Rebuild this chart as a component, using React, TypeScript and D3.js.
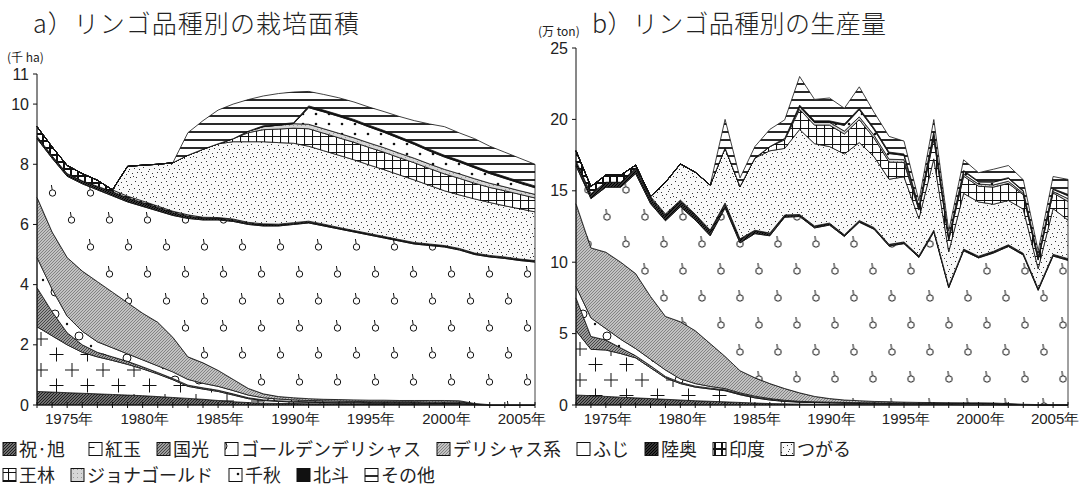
import React from 'react';
import * as d3 from 'd3';

const years = d3.range(1973, 2007);
const varieties = ['祝·旭', '紅玉', '国光', 'ゴールデンデリシャス', 'デリシャス系', 'ふじ', '陸奥', '印度', 'つがる', '王林', 'ジョナゴールド', '千秋', '北斗', 'その他'];
const patternKeys = ['iwai', 'kogyoku', 'kokko', 'golden', 'delicious', 'fuji', 'mutsu', 'indo', 'tsugaru', 'orin', 'jona', 'senshu', 'hokuto', 'other'];
const yearLabels = [1975, 1980, 1985, 1990, 1995, 2000, 2005];
const areaTicks = [0, 2, 4, 6, 8, 10, 11];
const prodTicks = [0, 5, 10, 15, 20, 25];

// 栽培面積 (千ha), 1973–2006
const areaIwai = [0.45,0.43,0.41,0.39,0.37,0.35,0.33,0.31,0.28,0.25,0.22,0.19,0.15,0.11,0.08,0.06,0.05,0.05,0.04,0.04,0.04,0.03,0.03,0.03,0.03,0.03,0.02,0.02,0.02,0.01,0,0,0,0];
const areaKogyoku = [2.15,1.87,1.59,1.36,1.23,1.13,1.02,0.89,0.75,0.59,0.4,0.34,0.3,0.22,0.13,0.09,0.07,0.05,0.05,0.04,0.03,0.04,0.03,0.03,0.03,0.03,0.03,0.03,0.03,0.01,0.01,0.01,0.01,0.01];
const areaKokko = [1.3,0.8,0.4,0.25,0.15,0.12,0.1,0.07,0.05,0.04,0.04,0.04,0.04,0.04,0.03,0.02,0.02,0.02,0.02,0.02,0.02,0.02,0.02,0.02,0.02,0.02,0.02,0.02,0.02,0.01,0,0,0,0];
const areaGolden = [1.0,0.75,0.55,0.45,0.35,0.3,0.25,0.23,0.22,0.22,0.19,0.15,0.13,0.11,0.09,0.07,0.06,0.05,0.04,0.04,0.04,0.03,0.03,0.03,0.03,0.03,0.03,0.03,0.03,0.01,0,0,0,0];
const areaDelicious = [2.0,1.9,1.95,2.0,2.0,1.85,1.7,1.55,1.45,1.15,0.75,0.68,0.53,0.37,0.22,0.13,0.08,0.07,0.06,0.05,0.05,0.05,0.05,0.05,0.04,0.04,0.05,0.05,0.04,0.01,0,0,0,0];
const areaFuji = [1.95,2.45,2.7,2.9,3.05,3.2,3.35,3.55,3.7,4.05,4.6,4.75,5.0,5.25,5.45,5.58,5.67,5.76,5.84,5.76,5.67,5.58,5.49,5.39,5.3,5.2,5.15,5.1,5.01,4.95,4.91,4.86,4.79,4.74];
const areaMutsu = [0.08,0.08,0.09,0.1,0.12,0.14,0.14,0.13,0.12,0.1,0.08,0.06,0.05,0.05,0.04,0.04,0.04,0.04,0.04,0.04,0.03,0.03,0.03,0.03,0.03,0.03,0.03,0.03,0.03,0.03,0.03,0.03,0.03,0.03];
const areaIndo = [0.32,0.3,0.27,0.24,0.2,0.06,0.05,0.05,0.04,0.04,0.04,0.03,0.03,0.03,0.03,0.03,0.02,0.02,0.02,0.02,0.02,0.02,0.02,0.02,0.02,0.02,0.02,0.02,0.02,0.02,0.02,0.02,0.02,0.02];
const areaTsugaru = [0,0,0,0,0,0,0.99,1.19,1.39,1.61,1.98,2.26,2.45,2.57,2.68,2.73,2.71,2.64,2.49,2.44,2.4,2.35,2.28,2.22,2.15,2.08,1.95,1.82,1.78,1.8,1.76,1.7,1.67,1.62];
const areaOrin = [0,0,0,0,0,0,0,0,0,0,0,0,0,0.1,0.3,0.4,0.45,0.5,0.58,0.58,0.58,0.58,0.58,0.58,0.57,0.57,0.56,0.56,0.55,0.52,0.5,0.5,0.48,0.46];
const areaJona = [0,0,0,0,0,0,0,0,0,0,0,0,0,0,0.05,0.1,0.13,0.15,0.15,0.15,0.15,0.15,0.15,0.15,0.15,0.15,0.15,0.15,0.15,0.15,0.14,0.13,0.12,0.12];
const areaSenshu = [0,0,0,0,0,0,0,0,0,0,0,0,0,0,0,0,0,0,0.55,0.56,0.56,0.55,0.53,0.51,0.49,0.46,0.43,0.41,0.39,0.36,0.32,0.28,0.25,0.22];
const areaHokuto = [0,0,0,0,0,0,0,0,0,0,0,0,0,0,0,0.03,0.03,0.03,0.06,0.06,0.06,0.06,0.06,0.06,0.06,0.06,0.06,0.06,0.06,0.06,0.06,0.06,0.06,0.06];
const areaOther = [0,0,0,0,0,0,0,0,0,0,0.75,0.95,1.12,1.15,1.05,0.99,1.02,1.02,0.48,0.52,0.56,0.58,0.6,0.63,0.67,0.73,0.84,0.95,0.91,0.91,0.85,0.81,0.77,0.72];

// 生産量 (万ton), 1973–2006
const prodIwai = [0.7,0.65,0.6,0.55,0.5,0.45,0.4,0.35,0.3,0.26,0.22,0.18,0.14,0.1,0.08,0.06,0.05,0.05,0.04,0.04,0.04,0.03,0.03,0.03,0.03,0.03,0.02,0.02,0.02,0.01,0.01,0,0,0];
const prodKogyoku = [4.5,3.25,3.25,3.05,2.8,2.15,1.5,1.15,0.95,0.86,0.78,0.54,0.36,0.25,0.17,0.14,0.12,0.1,0.09,0.08,0.07,0.07,0.07,0.07,0.06,0.06,0.07,0.07,0.06,0.04,0.02,0.02,0.02,0.02];
const prodKokko = [2.3,0.9,0.7,0.4,0.15,0.15,0.1,0.08,0.07,0.06,0.06,0.06,0.05,0.04,0.03,0.02,0.02,0.02,0.02,0.02,0.02,0.02,0.02,0.02,0.02,0.02,0.02,0.02,0.02,0.01,0.01,0.01,0.01,0.01];
const prodGolden = [0.8,1.3,0.8,0.6,0.5,0.45,0.45,0.25,0.18,0.12,0.09,0.07,0.07,0.06,0.05,0.04,0.03,0.03,0.03,0.02,0.02,0.02,0.01,0.01,0.01,0.01,0.01,0.01,0.01,0.01,0,0,0,0];
const prodDelicious = [5.8,4.9,5.35,5.4,5.25,4.4,3.75,4.0,3.7,3.0,2.25,1.55,1.28,1.05,0.82,0.59,0.38,0.25,0.17,0.14,0.1,0.09,0.07,0.05,0.05,0.04,0.03,0.03,0.03,0.03,0.01,0,0,0];
const prodFuji = [2.65,3.45,4.55,5.25,7.0,6.5,6.7,8.05,7.75,7.55,10.4,8.95,10.1,10.35,12.0,12.35,11.8,12.15,11.45,12.5,12.05,10.9,11.1,10.15,11.95,8.05,10.65,10.15,10.5,11.0,10.45,8.0,10.4,10.1];
const prodMutsu = [0.35,0.35,0.35,0.35,0.4,0.4,0.4,0.4,0.35,0.35,0.3,0.25,0.2,0.15,0.12,0.1,0.1,0.1,0.08,0.08,0.08,0.08,0.08,0.08,0.08,0.08,0.08,0.08,0.08,0.08,0.08,0.08,0.08,0.08];
const prodIndo = [0.7,0.5,0.5,0.5,0.2,0.1,0.08,0.07,0.06,0.05,0.05,0.04,0.04,0.04,0.04,0.04,0.04,0.04,0.04,0.04,0.04,0.04,0.04,0.04,0.04,0.04,0.04,0.04,0.04,0.04,0.04,0.04,0.04,0.04];
const prodTsugaru = [0,0,0,0,0,0,2.22,2.53,2.94,3.15,3.85,3.66,5.06,5.76,4.66,5.96,5.76,5.36,5.66,5.46,4.96,4.56,4.56,2.6,5.0,2.4,3.9,3.8,3.3,3.1,3.1,1.4,3.2,2.7];
const prodOrin = [0,0,0,0,0,0,0,0,0,0,0,0,0,0.3,0.6,1.4,1.3,1.5,1.4,1.6,1.3,1.2,1.0,0.6,1.4,0.8,1.2,1.1,1.2,1.2,1.0,0.6,1.1,1.3];
const prodJona = [0,0,0,0,0,0,0,0,0,0,0,0,0,0,0.1,0.2,0.2,0.2,0.2,0.2,0.2,0.2,0.2,0.1,0.2,0.1,0.15,0.15,0.15,0.15,0.1,0.1,0.1,0.2];
const prodSenshu = [0,0,0,0,0,0,0,0,0,0,0,0,0,0,0,0,0,0,0.4,0.5,0.4,0.4,0.3,0.1,0.2,0.1,0.2,0.15,0.2,0.2,0.15,0.1,0.15,0.2];
const prodHokuto = [0,0,0,0,0,0,0,0,0,0,0,0,0,0,0,0.1,0.1,0.1,0.1,0.1,0.1,0.1,0.1,0.05,0.1,0.05,0.05,0.05,0.05,0.05,0.05,0.05,0.05,0.1];
const prodOther = [0,0,0,0,0,0,0,0,0,0,2.0,0.6,0.8,1.2,1.3,2.0,1.5,1.6,1.1,1.5,1.1,1.1,0.9,0.4,0.85,0.4,0.75,0.6,0.85,0.85,0.75,0.4,0.85,1.05];

const areaSeries = [areaIwai, areaKogyoku, areaKokko, areaGolden, areaDelicious, areaFuji, areaMutsu, areaIndo, areaTsugaru, areaOrin, areaJona, areaSenshu, areaHokuto, areaOther];
const prodSeries = [prodIwai, prodKogyoku, prodKokko, prodGolden, prodDelicious, prodFuji, prodMutsu, prodIndo, prodTsugaru, prodOrin, prodJona, prodSenshu, prodHokuto, prodOther];

const JP = "'Noto Sans CJK JP', 'Noto Sans', sans-serif";
const NUM = "'Liberation Sans Narrow', 'Liberation Sans', Arial, sans-serif";

// fixed stipple positions for the つがる fill
const stipple = [[1,2],[6,1],[11,4],[15,1],[3,7],[9,9],[14,8],[1,12],[6,14],[12,13],[17,12],[4,18],[10,17],[16,17],[7,5],[18,5],[13,16],[8,11],[19,9],[2,15]];

// hook and cross marks are laid out per panel, so each panel gets its own offset
function PanelPatterns({ id, fujiShift, crossShift }: { id: string; fujiShift: string; crossShift: string }) {
  return (
    <>
      <pattern id={`p-kogyoku-${id}`} width="31" height="31" patternUnits="userSpaceOnUse" patternTransform={`translate(${crossShift})`}>
        <rect width="31" height="31" fill="#fff" />
        <path d="M1,8 H15 M8,1 V15 M16.5,23.5 H30.5 M23.5,16.5 V30.5" stroke="#111" strokeWidth="1" />
      </pattern>
      <pattern id={`p-fuji-${id}`} width="38" height="54" patternUnits="userSpaceOnUse" patternTransform={`translate(${fujiShift})`}>
        <rect width="38" height="54" fill="#fff" />
        <circle cx="9.5" cy="15" r="3.2" fill="none" stroke="#111" strokeWidth="1" />
        <path d="M9.2,11.8 L8.4,7" stroke="#111" strokeWidth="1" />
        <circle cx="28.5" cy="42" r="3.2" fill="none" stroke="#111" strokeWidth="1" />
        <path d="M28.2,38.8 L27.4,34" stroke="#111" strokeWidth="1" />
      </pattern>
    </>
  );
}

function Patterns() {
  return (
    <defs>
      <PanelPatterns id="a" fujiShift="5,16" crossShift="2,21" />
      <PanelPatterns id="b" fujiShift="8.5,13" crossShift="14,0" />
      <pattern id="p-iwai" width="3" height="3" patternUnits="userSpaceOnUse">
        <rect width="3" height="3" fill="#6e6e6e" />
        <path d="M0,3 L3,0" stroke="#1e1e1e" strokeWidth="1" />
      </pattern>
      <pattern id="p-kokko" width="3" height="3" patternUnits="userSpaceOnUse">
        <rect width="3" height="3" fill="#9c9c9c" />
        <path d="M0,3 L3,0" stroke="#3c3c3c" strokeWidth="0.9" />
      </pattern>
      <pattern id="p-golden" width="24" height="22" patternUnits="userSpaceOnUse">
        <rect width="24" height="22" fill="#fff" />
        <circle cx="7" cy="6" r="4" fill="none" stroke="#111" strokeWidth="1" />
        <circle cx="19" cy="16" r="1.2" fill="#111" />
      </pattern>
      <pattern id="p-delicious" width="3" height="3" patternUnits="userSpaceOnUse">
        <rect width="3" height="3" fill="#c2c2c2" />
        <path d="M0,3 L3,0" stroke="#727272" strokeWidth="0.8" />
      </pattern>
      <pattern id="p-mutsu" width="3" height="3" patternUnits="userSpaceOnUse">
        <rect width="3" height="3" fill="#333" />
        <path d="M0,3 L3,0" stroke="#000" strokeWidth="1" />
      </pattern>
      <pattern id="p-indo" width="7" height="7" patternUnits="userSpaceOnUse">
        <rect width="7" height="7" fill="#fff" />
        <path d="M0,1 H7 M1,0 V7" stroke="#111" strokeWidth="2" />
      </pattern>
      <pattern id="p-tsugaru" width="20" height="20" patternUnits="userSpaceOnUse">
        <rect width="20" height="20" fill="#f8f8f8" />
        {stipple.map(([sx, sy], i) => <rect key={i} x={sx} y={sy} width="1" height="1" fill="#333" />)}
      </pattern>
      <pattern id="p-orin" width="8" height="8" patternUnits="userSpaceOnUse">
        <rect width="8" height="8" fill="#fff" />
        <path d="M0,0.5 H8 M0.5,0 V8" stroke="#111" strokeWidth="1.1" />
      </pattern>
      <pattern id="p-jona" width="4" height="4" patternUnits="userSpaceOnUse">
        <rect width="4" height="4" fill="#d6d6d6" />
        <rect x="1" y="1" width="1" height="1" fill="#999" />
      </pattern>
      <pattern id="p-senshu" width="13" height="10" patternUnits="userSpaceOnUse">
        <rect width="13" height="10" fill="#fff" />
        <circle cx="4" cy="4" r="1.3" fill="#111" />
      </pattern>
      <pattern id="p-hokuto" width="3" height="3" patternUnits="userSpaceOnUse">
        <rect width="3" height="3" fill="#111" />
      </pattern>
      <pattern id="p-other" width="8" height="8" patternUnits="userSpaceOnUse">
        <rect width="8" height="8" fill="#fff" />
        <path d="M0,4 H8" stroke="#111" strokeWidth="1.8" />
      </pattern>
    </defs>
  );
}

function fillFor(j: number, panel: string) {
  const key = patternKeys[j];
  return key === 'fuji' || key === 'kogyoku' ? `url(#p-${key}-${panel})` : `url(#p-${key})`;
}

type ChartProps = {
  panel: string;
  series: number[][];
  left: number;
  right: number;
  yMax: number;
  yTopPx: number;
  ticks: number[];
};

function StackedChart({ panel, series, left, right, yMax, yTopPx, ticks }: ChartProps) {
  const base = 405;
  const x = d3.scaleLinear().domain([1973, 2006]).range([left, right]);
  const y = d3.scaleLinear().domain([0, yMax]).range([base, yTopPx]);
  const table = years.map((yr, i) => {
    const row: Record<string, number> = { year: yr };
    varieties.forEach((k, j) => { row[k] = series[j][i]; });
    return row;
  });
  const layers = d3.stack<Record<string, number>>().keys(varieties)(table);
  const area = d3.area<d3.SeriesPoint<Record<string, number>>>()
    .x(d => x(d.data.year))
    .y0(d => y(d[0]))
    .y1(d => y(d[1]));
  return (
    <g>
      {layers.map((layer, j) => (
        <path key={j} d={area(layer) || ''} fill={fillFor(j, panel)} stroke="#111" strokeWidth={0.8} strokeLinejoin="round" />
      ))}
      <line x1={left} x2={left} y1={base} y2={y(yMax)} stroke="#111" strokeWidth={1} />
      <line x1={left} x2={right} y1={base} y2={base} stroke="#111" strokeWidth={1} />
      {ticks.map(t => (
        <g key={t}>
          <line x1={left - 4} x2={left} y1={y(t)} y2={y(t)} stroke="#111" strokeWidth={1} />
          <text x={left - 8} y={y(t) + 5.5} textAnchor="end" fontFamily={NUM} fontSize={16} fill="#222">{t}</text>
        </g>
      ))}
      {years.map(yr => (
        <line key={yr} x1={x(yr)} x2={x(yr)} y1={base - 3} y2={base + 3} stroke="#111" strokeWidth={1} />
      ))}
      {yearLabels.map(yr => (
        <text key={yr} x={x(yr) + 2} y={424} textAnchor="middle" fontFamily={NUM} fontSize={15} fill="#222">{yr}年</text>
      ))}
    </g>
  );
}

function Legend() {
  const rows = [
    [0, 1, 2, 3, 4, 5, 6, 7, 8],
    [9, 10, 11, 12, 13],
  ];
  const charW = 18;
  const rowY = [449, 475];
  return (
    <g fontFamily={JP} fontSize={18} fill="#222">
      {rows.map((row, r) => {
        let cx = 3;
        return row.map(j => {
          const name = varieties[j];
          const w = name.length * charW;
          const g = (
            <g key={j}>
              <rect x={cx} y={rowY[r] - 6.5} width={13} height={13} fill={fillFor(j, 'a')} stroke="#111" strokeWidth={1} />
              <text x={cx + 16} y={rowY[r] + 6.5}>{name}</text>
            </g>
          );
          cx += 16 + w + 16;
          return g;
        });
      })}
    </g>
  );
}

export default function App() {
  return (
    <svg width={1091} height={491} style={{ position: 'absolute', left: 0, top: 0, background: '#fff' }}>
      <Patterns />
      <rect width={1091} height={491} fill="#fff" />
      <text x={33} y={33} fontFamily={JP} fontSize={25} fontWeight={300} textLength={326} lengthAdjust="spacing" fill="#222">a）リンゴ品種別の栽培面積</text>
      <text x={592} y={33} fontFamily={JP} fontSize={25} fontWeight={300} textLength={294} lengthAdjust="spacing" fill="#222">b）リンゴ品種別の生産量</text>
      <text x={7} y={62} fontFamily={JP} fontSize={12} fill="#222">(千 ha)</text>
      <text x={538} y={36} fontFamily={JP} fontSize={12} fill="#222">(万 ton)</text>
      <StackedChart panel="a" series={areaSeries} left={37} right={535} yMax={11} yTopPx={74} ticks={areaTicks} />
      <StackedChart panel="b" series={prodSeries} left={576} right={1068} yMax={25} yTopPx={48} ticks={prodTicks} />
      <Legend />
    </svg>
  );
}
